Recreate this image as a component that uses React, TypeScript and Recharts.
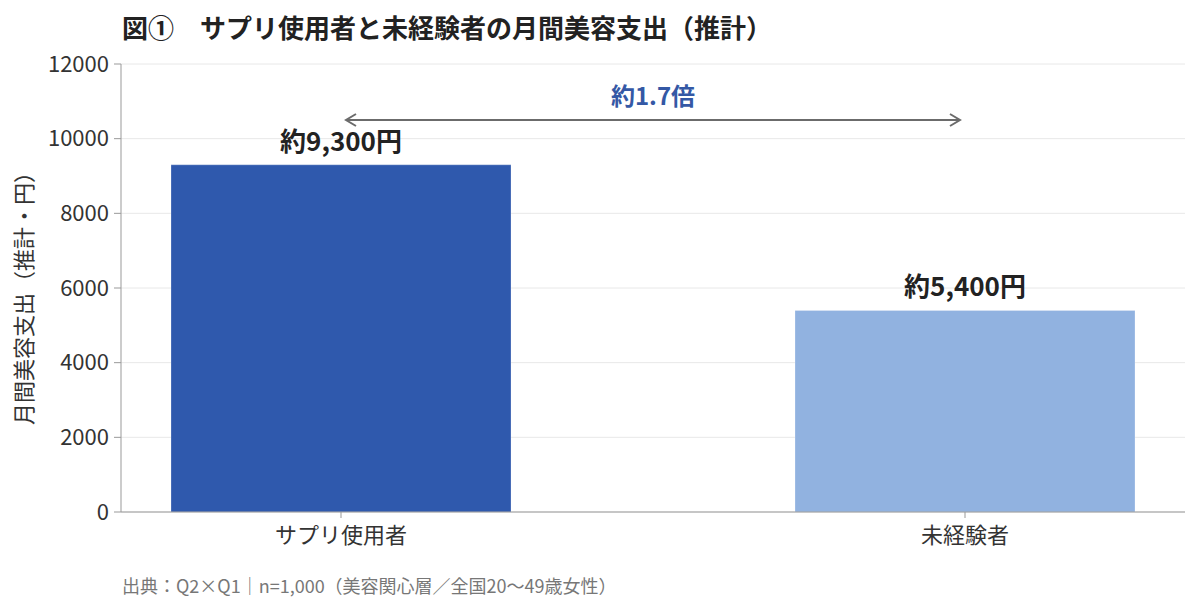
import { BarChart, Bar, XAxis, YAxis, CartesianGrid, Cell, LabelList, ReferenceLine } from "recharts";

const categories = ["サプリ使用者", "未経験者"];
const spending = [9300, 5400];
const valueLabels = ["約9,300円", "約5,400円"];
const barColors = ["#2F59AD", "#91B2E0"];
const yTicks = [0, 2000, 4000, 6000, 8000, 10000, 12000];
const ratioLabel = "約1.7倍";
const arrowLevel = 10500;

const FONT = "'Noto Sans CJK JP', 'Noto Sans', sans-serif";

const data = categories.map((name, i) => ({ name, value: spending[i], label: valueLabels[i] }));

// double-headed arrow between the two bar centres
function Arrow(props: any) {
  const { x1, y1, x2 } = props;
  const a = x1 + 5;
  const b = x2 - 5;
  const y = y1;
  return (
    <g stroke="#6b6b6b" strokeWidth={2} fill="none">
      <line x1={a} y1={y} x2={b} y2={y} />
      <polyline points={`${a + 10},${y - 6} ${a},${y} ${a + 10},${y + 6}`} />
      <polyline points={`${b - 10},${y - 6} ${b},${y} ${b - 10},${y + 6}`} />
    </g>
  );
}

export default function App() {
  return (
    <div style={{ position: "absolute", left: 0, top: 0, width: 1200, height: 612, background: "#fff", fontFamily: FONT }}>
      <div style={{ position: "absolute", left: 122, top: 8, fontSize: 26, fontWeight: 700, color: "#222", whiteSpace: "nowrap" }}>
        図①　サプリ使用者と未経験者の月間美容支出（推計）
      </div>
      <div
        style={{
          position: "absolute",
          left: 22,
          top: 293,
          transform: "translate(-50%, -50%) rotate(-90deg)",
          fontSize: 22,
          color: "#333",
          whiteSpace: "nowrap",
        }}
      >
        月間美容支出（推計・円）
      </div>
      <BarChart width={1200} height={612} data={data} margin={{ top: 64, right: 15, bottom: 60, left: 0 }}>
        <CartesianGrid vertical={false} stroke="#e8e8e8" />
        <XAxis
          dataKey="name"
          height={40}
          padding={{ left: -92, right: -92 }}
          stroke="#999"
          tickSize={6}
          tickMargin={9}
          tick={{ fill: "#333", fontSize: 22, fontFamily: FONT }}
        />
        <YAxis
          width={121}
          domain={[0, 12000]}
          ticks={yTicks}
          stroke="#999"
          tickSize={7}
          tickMargin={5}
          tick={{ fill: "#333", fontSize: 22, fontFamily: FONT }}
        />
        <Bar dataKey="value" barSize={340} isAnimationActive={false} stroke="#ffffff" strokeOpacity={0.25}>
          {data.map((d, i) => (
            <Cell key={d.name} fill={barColors[i]} />
          ))}
          <LabelList dataKey="label" position="top" offset={14} fill="#222" fontSize={26} fontWeight={700} fontFamily={FONT} />
        </Bar>
        <ReferenceLine
          segment={[
            { x: categories[0], y: arrowLevel },
            { x: categories[1], y: arrowLevel },
          ]}
          shape={Arrow}
          label={{ value: ratioLabel, position: "top", offset: 15, fill: "#3458A5", fontSize: 24, fontWeight: 700, fontFamily: FONT }}
        />
      </BarChart>
      <div style={{ position: "absolute", left: 122, top: 572, fontSize: 18, color: "#777", whiteSpace: "nowrap" }}>
        出典：Q2×Q1｜n=1,000（美容関心層／全国20〜49歳女性）
      </div>
    </div>
  );
}
